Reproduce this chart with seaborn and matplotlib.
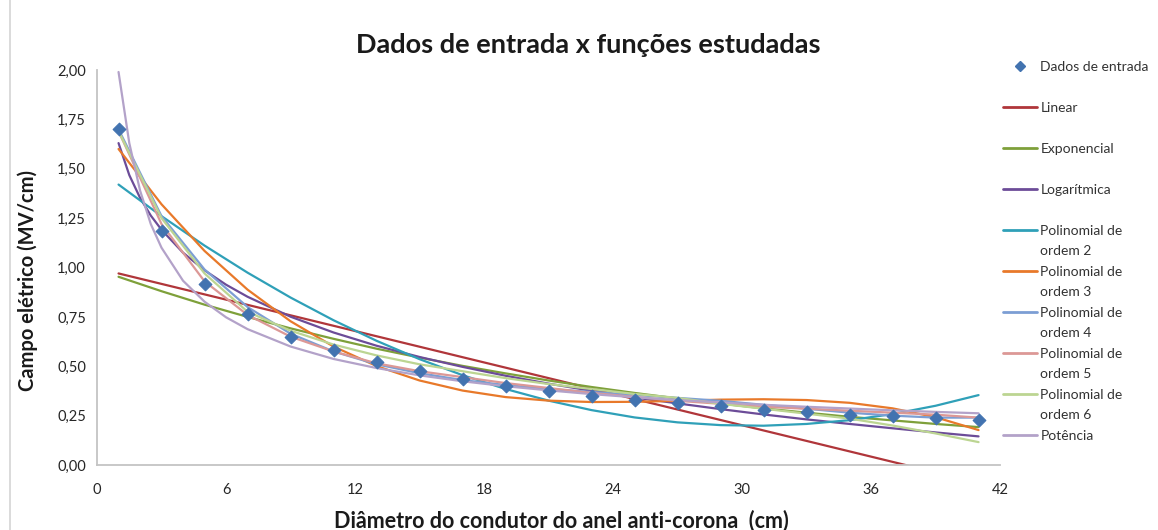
import matplotlib
matplotlib.use("Agg")
import matplotlib.pyplot as plt
from matplotlib.lines import Line2D
from matplotlib.ticker import FuncFormatter, MultipleLocator
import pandas as pd
import seaborn as sns

# Diâmetro do condutor (cm) onde as funções foram avaliadas
diametro = [1, 3, 5, 7, 9, 11, 13, 15, 17, 19, 21,
            23, 25, 27, 29, 31, 33, 35, 37, 39, 41]
# Malha mais fina no início para as curvas mais acentuadas
diametro_fino = [1, 1.5, 2, 2.5, 3, 4, 5, 6, 7, 9, 11, 13, 15, 17, 19, 21,
                 23, 25, 27, 29, 31, 33, 35, 37, 39, 41]

# Campo elétrico medido (MV/cm)
campo_entrada = [1.70, 1.185, 0.915, 0.765, 0.65, 0.58, 0.52, 0.475, 0.435, 0.40, 0.375,
                 0.35, 0.33, 0.315, 0.30, 0.28, 0.27, 0.255, 0.248, 0.238, 0.228]

# Funções estudadas
linear = [0.970, 0.917, 0.864, 0.811, 0.758, 0.705, 0.652, 0.599, 0.546, 0.493, 0.440,
          0.387, 0.334, 0.281, 0.228, 0.175, 0.122, 0.069, 0.016, -0.037, -0.090]
exponencial = [0.953, 0.880, 0.812, 0.750, 0.692, 0.639, 0.589, 0.544, 0.502, 0.464, 0.428,
               0.395, 0.365, 0.337, 0.311, 0.287, 0.265, 0.244, 0.226, 0.208, 0.192]
logaritmica = [1.630, 1.468, 1.353, 1.263, 1.191, 1.075, 0.986, 0.913, 0.852, 0.751, 0.671,
               0.604, 0.547, 0.497, 0.452, 0.412, 0.376, 0.342, 0.312, 0.283, 0.256,
               0.231, 0.208, 0.186, 0.165, 0.145]
polinomial_2 = [1.420, 1.260, 1.111, 0.974, 0.848, 0.733, 0.629, 0.536, 0.455, 0.385, 0.326,
                0.278, 0.241, 0.216, 0.202, 0.199, 0.208, 0.227, 0.258, 0.300, 0.354]
polinomial_3 = [1.600, 1.320, 1.084, 0.888, 0.728, 0.600, 0.501, 0.428, 0.377, 0.344, 0.326,
                0.319, 0.320, 0.325, 0.331, 0.333, 0.329, 0.315, 0.287, 0.242, 0.177]
polinomial_4 = [1.700, 1.260, 0.990, 0.800, 0.665, 0.575, 0.510, 0.465, 0.430, 0.405, 0.385,
                0.370, 0.355, 0.340, 0.325, 0.305, 0.285, 0.265, 0.250, 0.240, 0.240]
polinomial_5 = [1.690, 1.220, 0.930, 0.760, 0.650, 0.575, 0.515, 0.475, 0.445, 0.415, 0.390,
                0.365, 0.345, 0.325, 0.310, 0.295, 0.285, 0.275, 0.265, 0.255, 0.240]
polinomial_6 = [1.690, 1.250, 0.970, 0.776, 0.680, 0.610, 0.555, 0.510, 0.475, 0.440, 0.410,
                0.385, 0.360, 0.340, 0.310, 0.285, 0.260, 0.235, 0.200, 0.160, 0.116]
potencia = [1.990, 1.630, 1.390, 1.220, 1.100, 0.933, 0.827, 0.748, 0.688, 0.600, 0.537,
            0.491, 0.454, 0.424, 0.399, 0.378, 0.359, 0.343, 0.329, 0.317, 0.305,
            0.295, 0.286, 0.277, 0.269, 0.262]

funcoes = ["Linear", "Exponencial", "Logarítmica", "Polinomial de ordem 2",
           "Polinomial de ordem 3", "Polinomial de ordem 4", "Polinomial de ordem 5",
           "Polinomial de ordem 6", "Potência"]
valores = [linear, exponencial, logaritmica, polinomial_2, polinomial_3,
           polinomial_4, polinomial_5, polinomial_6, potencia]
abscissas = [diametro, diametro, diametro_fino, diametro, diametro,
             diametro, diametro, diametro, diametro_fino]
cores = ["#b0363a", "#7ea03a", "#6c4c98", "#2fa0b8", "#e8792a",
         "#7c9ed4", "#dc9896", "#bcd592", "#b3a2c9"]
cor_dados = "#4273b0"

x_ticks = [0, 6, 12, 18, 24, 30, 36, 42]

linhas = []
for nome, xs, ys in zip(funcoes, abscissas, valores):
    for xv, yv in zip(xs, ys):
        linhas.append((xv, yv, nome))
df = pd.DataFrame(linhas, columns=["diametro", "campo", "funcao"])

sns.set_theme(style="white")
plt.rcParams["font.family"] = ["Lato", "DejaVu Sans"]

fig = plt.figure(figsize=(11.58, 5.30), dpi=100)
ax = fig.add_axes([0.0838, 0.1226, 0.7798, 0.7453])

sns.lineplot(data=df, x="diametro", y="campo", hue="funcao", hue_order=funcoes,
             palette=dict(zip(funcoes, cores)), estimator=None, sort=False,
             linewidth=1.6, legend=False, ax=ax)
sns.scatterplot(x=diametro, y=campo_entrada, marker="D", s=42, color=cor_dados,
                edgecolor=cor_dados, linewidth=0.8, zorder=5, legend=False, ax=ax)

ax.set_xlim(0, 42)
ax.set_ylim(0, 2)
ax.set_xticks(x_ticks)
ax.yaxis.set_major_locator(MultipleLocator(0.25))
ax.yaxis.set_major_formatter(FuncFormatter(lambda v, _: f"{v:.2f}".replace(".", ",")))
ax.set_xlabel("")
ax.set_ylabel("")

for lado in ("top", "right"):
    ax.spines[lado].set_visible(False)
for lado in ("left", "bottom"):
    ax.spines[lado].set_color("#c4c4c4")
    ax.spines[lado].set_linewidth(1.3)
ax.tick_params(axis="both", direction="out", length=4, width=1.2, color="#c4c4c4",
               labelsize=10.5, labelcolor="#262626")
ax.tick_params(axis="x", pad=9)
ax.tick_params(axis="y", pad=4)

fig.text(0.508, 0.915, "Dados de entrada x funções estudadas", ha="center", va="center",
         fontsize=19.5, fontweight="bold", color="#1a1a1a")
fig.text(0.485, 0.018, "Diâmetro do condutor do anel anti-corona  (cm)", ha="center",
         va="center", fontsize=15.5, fontweight="bold", color="#1a1a1a")
fig.text(0.024, 0.47, "Campo elétrico (MV/cm)", ha="center", va="center", rotation=90,
         fontsize=14.5, fontweight="bold", color="#1a1a1a")

# Legenda: uma linha por rótulo, com linhas vazias para o espaçamento
vazio = Line2D([], [], color="none")
handles = [Line2D([], [], marker="D", ls="none", color=cor_dados, markersize=5.5), vazio]
labels = ["Dados de entrada", " "]
for nome, cor in zip(funcoes, cores):
    h = Line2D([], [], color=cor, linewidth=2)
    if nome.startswith("Polinomial"):
        handles += [h, vazio]
        labels += ["Polinomial de", nome.replace("Polinomial de ", "")]
    elif nome == "Potência":
        handles += [h]
        labels += [nome]
    else:
        handles += [h, vazio]
        labels += [nome, " "]

fig.legend(handles, labels, loc="upper left", bbox_to_anchor=(1003 / 1158, 1 - 61 / 530),
           frameon=False, fontsize=10, handlelength=2.45, handletextpad=0.25,
           labelspacing=0.61, borderpad=0, borderaxespad=0, labelcolor="#333333")

fig.add_artist(Line2D([0.009, 0.009], [0, 1], color="#d4d4d4", linewidth=1.2))

fig.savefig("out.png", dpi=100)
